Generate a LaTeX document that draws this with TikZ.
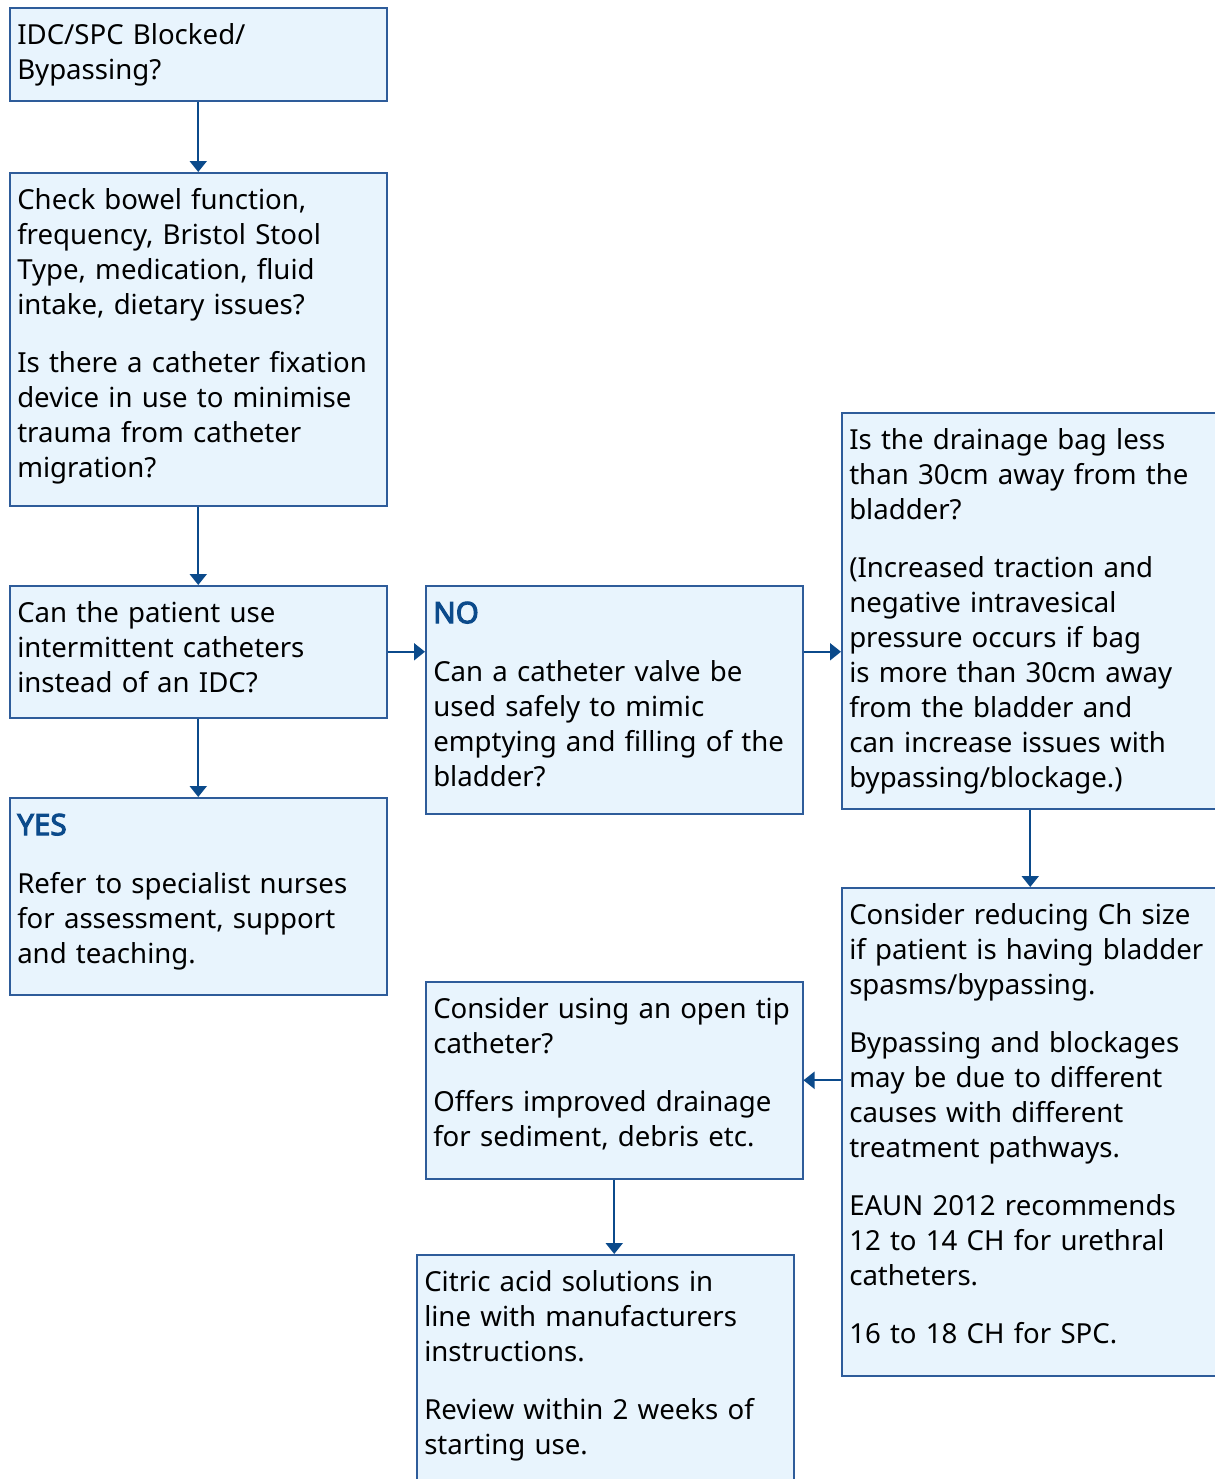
\documentclass[tikz,border=0pt]{standalone}
\usepackage{fontspec}
\setmainfont{Noto Sans}[BoldFont={Noto Sans}, BoldFeatures={FakeBold=3.5}]
\usetikzlibrary{arrows.meta,positioning}
\definecolor{boxFill}{HTML}{E8F4FD}
\definecolor{boxLine}{HTML}{2E5C9A}
\definecolor{flowBlue}{HTML}{0B4A8B}
\tikzset{
  >={Triangle[length=5.5pt,width=8.5pt]},
  box/.style = {draw=boxLine, fill=boxFill, line width=0.75pt, anchor=north west, align=left,
                text width=181pt, inner xsep=3.75pt, inner ysep=8pt,
                font=\fontsize{13.8}{17.5}\selectfont},
  flow/.style = {->, draw=flowBlue, line width=1pt},
}
% box body: height of the box in px, text pinned to the top
\newcommand{\boxBody}[2]{\parbox[t][\dimexpr 0.5pt*#1-16pt\relax][t]{\hsize}{\raggedright #2}}
\newcommand{\heading}[1]{{\fontsize{14.8}{17.5}\selectfont\bfseries\color{flowBlue}#1}}
\newcommand{\parGap}{\\[11.5pt]}

\begin{document}
\begin{tikzpicture}[x=0.5pt, y=-0.5pt]
  \useasboundingbox (0,0) rectangle (1215,1479);
  \clip (0,0) rectangle (1215,1479);

  % ----------------------------------------------------------------------
  % Left column
  % ----------------------------------------------------------------------
  \node[box] (idc) at (9,7) {\boxBody{93}{IDC/SPC Blocked/\\Bypassing?}};
  \node[box] (bowel) at (9,172) {\boxBody{333}{
    Check bowel function,\\frequency, Bristol Stool\\Type, medication, fluid\\intake, dietary issues?\parGap
    Is there a catheter fixation\\device in use to minimise\\trauma from catheter\\migration?}};
  \node[box] (intermit) at (9,585) {\boxBody{132}{
    Can the patient use\\intermittent catheters\\instead of an IDC?}};
  \node[box] (yes) at (9,797) {\boxBody{197}{
    \heading{YES}\parGap
    Refer to specialist nurses\\for assessment, support\\and teaching.}};

  % ----------------------------------------------------------------------
  % Middle column
  % ----------------------------------------------------------------------
  \node[box] (no) at (425,585) {\boxBody{228}{
    \heading{NO}\parGap
    Can a catheter valve be\\used safely to mimic\\emptying and filling of the\\bladder?}};
  \node[box] (opentip) at (425,981) {\boxBody{197}{
    Consider using an open tip\\catheter?\parGap
    Offers improved drainage\\for sediment, debris etc.}};
  \node[box] (citric) at (416,1254) {\boxBody{240}{
    Citric acid solutions in\\line with manufacturers\\instructions.\parGap
    Review within 2 weeks of\\starting use.}};

  % ----------------------------------------------------------------------
  % Right column
  % ----------------------------------------------------------------------
  \node[box] (drainbag) at (841,412) {\boxBody{396}{
    Is the drainage bag less\\than 30cm away from the\\bladder?\parGap
    (Increased traction and\\negative intravesical\\pressure occurs if bag\\is more than 30cm away\\from the bladder and\\can increase issues with\\bypassing/blockage.)}};
  \node[box] (chsize) at (841,887) {\boxBody{488}{
    Consider reducing Ch size\\if patient is having bladder\\spasms/bypassing.\parGap
    Bypassing and blockages\\may be due to different\\causes with different\\treatment pathways.\parGap
    EAUN 2012 recommends\\12 to 14 CH for urethral\\catheters.\parGap
    16 to 18 CH for SPC.}};

  % connectors
  \draw[flow] (idc) -- (bowel);
  \draw[flow] (bowel) -- (intermit);
  \draw[flow] (intermit) -- (yes);
  \draw[flow] (intermit.east) -- (intermit.east -| no.west);
  \draw[flow] (no.east |- intermit.east) -- (drainbag.west |- intermit.east);
  \draw[flow] (drainbag.south) -- (drainbag.south |- chsize.north);
  \draw[flow] (chsize.west |- opentip.east) -- (opentip.east);
  \draw[flow] (opentip.south) -- (opentip.south |- citric.north);
\end{tikzpicture}
\end{document}
